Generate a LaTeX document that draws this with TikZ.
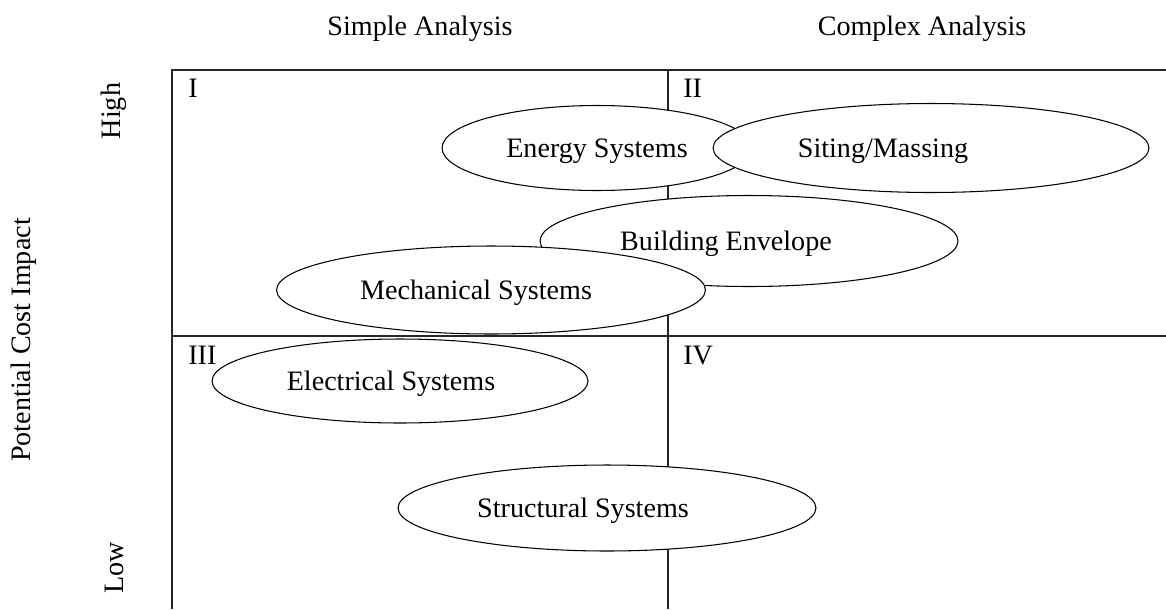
\documentclass[tikz,border=0pt]{standalone}
\usepackage{fontspec}
\setmainfont{Liberation Serif}
\usetikzlibrary{shapes.geometric}
\begin{document}
\begin{tikzpicture}[x=0.02cm,y=-0.02cm,
  every node/.style={font=\fontsize{16}{19}\selectfont},
  area/.style={draw,ellipse,fill=white,inner sep=0pt,line width=0.6pt},
  grid line/.style={line width=0.8pt,draw=black!85}]
  \useasboundingbox (0,0) rectangle (1166,609);
  % quadrants
  \draw[grid line] (1166,70) -- (172,70) -- (172,609);
  \draw[grid line] (172,336) -- (1166,336);
  \draw[grid line] (668,70) -- (668,609);
  \node[anchor=base west,inner sep=0pt] (q1) at (188,97) {I};
  \node[anchor=base west,inner sep=0pt] (q2) at (683,97) {II};
  \node[anchor=base west,inner sep=0pt] (q3) at (188,364) {III};
  \node[anchor=base west,inner sep=0pt] (q4) at (683,364) {IV};
  % axis labels
  \node (simple) at (420,29) {Simple Analysis};
  \node (complex) at (922,29) {Complex Analysis};
  \node[rotate=90] (high) at (114,111) {High};
  \node[rotate=90] (low) at (114,568) {Low};
  \node[rotate=90] (cost) at (24,340) {Potential Cost Impact};
  % systems
  \node[area,minimum width=6.2cm,minimum height=1.7cm] (energy) at (597,148) {};
  \node at ([yshift=-0.06cm]energy.center) (energy text) {Energy Systems};
  \node[area,minimum width=8.72cm,minimum height=1.78cm] (siting) at (931,148) {};
  \node at ([xshift=-0.96cm,yshift=-0.06cm]siting.center) (siting text) {Siting/Massing};
  \node[area,minimum width=8.36cm,minimum height=1.82cm] (envelope) at (749,241) {};
  \node at ([xshift=-0.46cm,yshift=-0.06cm]envelope.center) (envelope text) {Building Envelope};
  \node[area,minimum width=8.58cm,minimum height=1.76cm] (mechanical) at (491,290) {};
  \node at ([xshift=-0.3cm,yshift=-0.06cm]mechanical.center) (mechanical text) {Mechanical Systems};
  \node[area,minimum width=7.52cm,minimum height=1.68cm] (electrical) at (400,381) {};
  \node at ([xshift=-0.18cm,yshift=-0.06cm]electrical.center) (electrical text) {Electrical Systems};
  \node[area,minimum width=8.36cm,minimum height=1.72cm] (structural) at (607,508) {};
  \node at ([xshift=-0.48cm,yshift=-0.06cm]structural.center) (structural text) {Structural Systems};
\end{tikzpicture}
\end{document}
